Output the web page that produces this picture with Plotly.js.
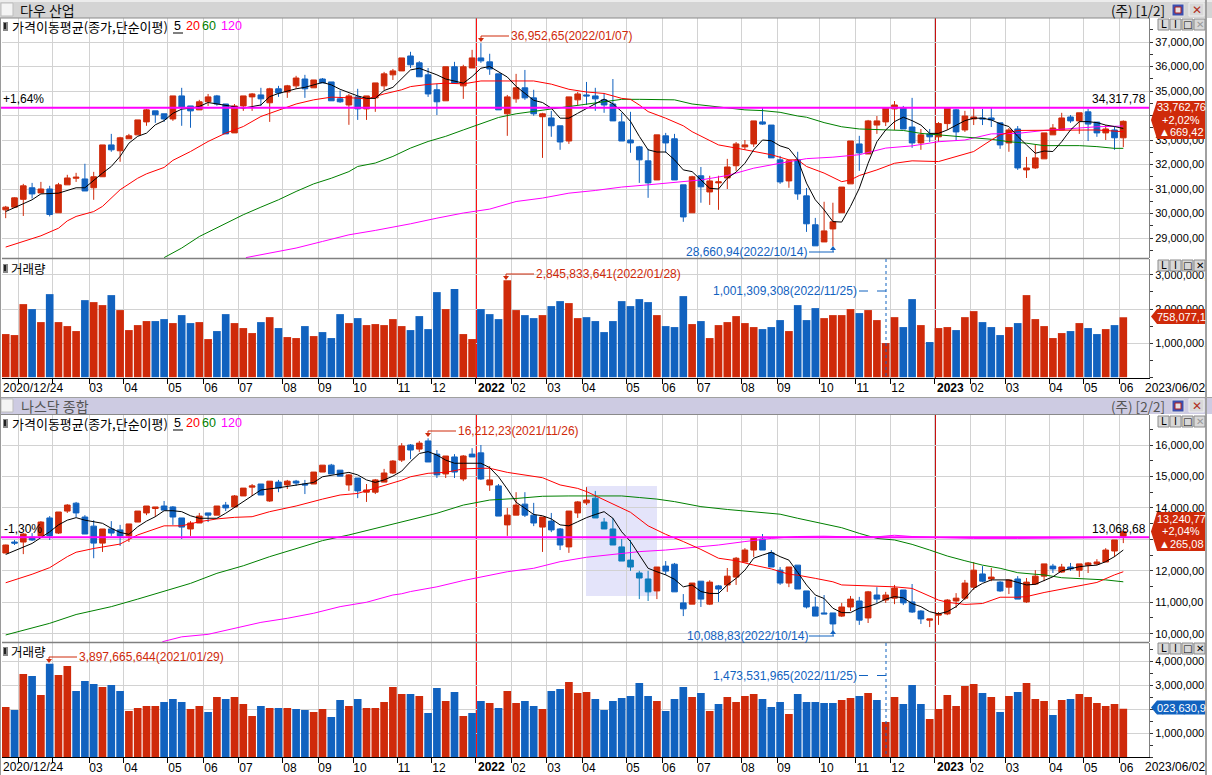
<!DOCTYPE html>
<html><head><meta charset="utf-8">
<script src="https://cdn.plot.ly/plotly-3.0.1.min.js"></script>
<style>html,body{margin:0;padding:0;background:#fff;overflow:hidden}#c{width:1212px;height:775px}</style>
</head><body><div id="c"></div>
<script>
// [open, high, low, close] weekly, Dow
const dowOHLC=[[30150,30310,29810,30260],[30260,30660,30240,30640],[30580,31210,29900,31130],[31050,31250,30610,30800],[30840,31290,30840,31000],[31000,31130,29880,29960],[30030,31250,30030,31170],[31170,31580,31170,31450],[31440,31660,31290,31480],[31410,32030,30920,30920],
[31050,31700,30560,31500],[31500,32800,31500,32800],[32800,33250,32520,32600],[32560,33130,32110,33090],[33050,33250,33050,33170],[33210,33820,33210,33820],[33740,34270,33580,34230],[34190,34190,33700,34030],[34070,34070,33740,33860],[33860,34800,33780,34800],
[34800,35130,33580,34350],[34390,34390,33500,34190],[34230,34640,34230,34560],[34560,34880,34390,34760],[34800,34840,34400,34470],[34470,34470,33250,33250],[33290,34470,33290,34390],[34390,34800,34190,34800],[34760,34920,34190,34880],[34840,35130,34390,34680],
[34520,35130,33740,35090],[35090,35210,34760,34920],[34960,35250,34720,35210],[35210,35620,35100,35530],[35490,35660,34720,35090],[35130,35450,35130,35450],[35490,35530,35330,35330],[35370,35370,34600,34600],[34680,35020,34520,34560],[34430,34880,33620,34800],
[34760,35090,33820,34270],[34270,34800,33820,34800],[34720,35330,34150,35330],[35210,35780,35050,35700],[35660,35900,35450,35820],[35820,36350,35820,36350],[36430,36600,35940,36070],[36150,36220,35580,35580],[35660,35940,34760,34880],[35050,35290,34020,34560],
[34600,35990,34600,35990],[35990,36190,35320,35320],[35210,36070,34680,35990],[35940,36680,35940,36350],[36350,36953,36150,36230],[36190,36520,35660,35900],[35700,35700,34230,34230],[34070,34840,33170,34760],[34680,35700,34520,35130],[35130,35860,34640,34720],
[34720,35050,33990,34070],[33950,34110,32270,34070],[33900,34190,33130,33580],[33580,33580,32600,32920],[32960,34760,32840,34760],[34640,34960,34430,34880],[34840,35370,34430,34800],[34800,35130,34190,34680],[34640,34920,34110,34430],[34470,35490,33780,33780],
[33740,34110,32960,32960],[33000,34150,32480,32880],[32720,32760,31250,32190],[32150,32640,30640,31250],[31370,33210,31370,33210],[33170,33290,32480,32880],[33050,33250,31370,31370],[31170,31170,29660,29860],[30030,31540,30030,31500],[31540,31900,30440,31090],
[30880,31540,30350,31330],[31250,31540,30150,31290],[31450,32230,31000,31900],[31950,32920,31740,32840],[32720,33000,32600,32800],[32840,33780,32720,33780],[33740,34310,33620,33650],[33610,33610,32270,32270],[32190,32350,31210,31290],[31330,32190,31050,32150],
[32190,32520,30560,30800],[30720,31040,29250,29580],[29540,29820,28680,28680],[28840,30480,28840,29290],[29370,30440,28661,29660],[30030,31080,30030,31080],[31210,32960,31210,32960],[32840,33170,31740,32470],[32430,33820,32430,33780],[33610,33980,33250,33780],
[33740,34310,33570,34310],[34270,34590,33410,34430],[34310,34390,33450,33450],[33530,34720,32680,32880],[32880,33450,32600,33210],[33250,33450,32920,33130],[33130,33730,32920,33670],[33670,34310,33410,34310],[34230,34270,32960,33330],[33410,34190,33330,33980],
[33860,34310,33610,33940],[33900,34270,33610,33860],[33900,34310,33530,33820],[33700,33700,32640,32800],[32880,33490,32520,33410],[33450,33570,31780,31860],[31780,32310,31450,31860],[31860,32800,31820,32270],[32230,33290,32230,33290],[33210,33650,33210,33490],
[33410,34110,33410,33900],[33940,34020,33700,33780],[33780,34110,33250,34110],[34150,34270,32960,33650],[33730,33730,33130,33290],[33290,33610,33000,33450],[33410,33530,32600,33090],[33090,33800,32710,33763]];
// [open, high, low, close] weekly, Nasdaq
const nasOHLC=[[12565,12830,12560,12820],[12915,12980,12820,12880],[12915,13200,12530,13170],[13070,13200,12950,12980],[13110,13580,13110,13550],[13680,13740,12980,13110],[13200,13870,13170,13870],[13900,14120,13840,14090],[14150,14190,13710,13840],[13710,13770,13170,13170],
[13420,13610,12400,12880],[12880,13330,12600,13330],[13330,13580,13110,13200],[13300,13460,12790,13110],[13110,13490,12915,13490],[13550,13900,13550,13900],[13840,14060,13770,14060],[13980,14030,13710,14030],[14060,14220,13930,13930],[14030,14060,13460,13710],
[13680,13680,13010,13390],[13330,13580,13110,13520],[13520,13840,13520,13740],[13840,13840,13550,13770],[13770,14060,13770,14060],[14090,14190,13900,14000],[14030,14410,14030,14380],[14380,14630,14380,14630],[14660,14760,14380,14700],[14760,14760,14410,14410],
[14220,14850,14190,14850],[14820,14890,14500,14630],[14730,14890,14600,14850],[14850,14890,14700,14790],[14760,14890,14440,14730],[14760,15140,14760,15140],[15140,15360,15140,15360],[15360,15400,15080,15080],[15200,15200,15010,15010],[14730,15080,14540,15050],
[14950,14950,14310,14540],[14500,14760,14190,14570],[14500,14920,14440,14890],[14820,15240,14820,15110],[15110,15520,15080,15490],[15520,16060,15460,15970],[16000,16030,15550,15840],[15870,16130,15780,16060],[16130,16212,15460,15460],[15710,15840,14950,15050],
[15080,15650,14950,15650],[15620,15710,14950,15140],[14920,15680,14850,15650],[15710,15900,15620,15620],[15750,16000,14890,14920],[14730,15330,14540,14890],[14700,14760,13740,13740],[13460,14000,13110,13770],[13770,14500,13770,14090],[14120,14500,13710,13770],
[13770,14160,13420,13520],[13390,13710,12600,13710],[13580,13840,13230,13300],[13330,13360,12660,12820],[12760,13900,12570,13900],[13840,14220,13680,14190],[14160,14660,14090,14250],[14310,14540,13680,13680],[13550,13680,13330,13330],[13330,13680,12820,12820],
[12760,13010,12310,12310],[12340,12980,12000,12120],[11930,12000,11100,11770],[11740,12000,11040,11330],[11360,12120,11100,12120],[12150,12310,11870,11990],[12210,12250,11330,11330],[10980,11260,10560,10790],[10940,11610,10940,11610],[11670,11670,10850,11100],
[10940,11700,10910,11640],[11520,11550,11010,11420],[11550,12090,11330,11830],[11800,12440,11550,12400],[12280,12720,12280,12660],[12660,13040,12440,13040],[13010,13170,12660,12660],[12570,12660,12120,12120],[12020,12120,11550,11610],[11610,12120,11480,12120],
[12180,12180,11420,11420],[11360,11360,10800,10850],[10850,11170,10560,10560],[10660,11230,10630,10630],[10660,10660,10088,10310],[10560,10980,10530,10850],[10850,11200,10720,11100],[11040,11170,10280,10430],[10500,11360,10340,11330],[11230,11480,10980,11100],
[11070,11330,10980,11230],[11130,11550,10940,11450],[11390,11390,10910,10980],[11010,11580,10660,10690],[10720,10750,10310,10470],[10430,10470,10210,10470],[10590,10690,10280,10630],[10630,11100,10590,11070],[11040,11290,10820,11130],[11130,11710,11070,11610],
[11480,12280,11390,12020],[11900,12150,11640,11670],[11740,12090,11670,11800],[11640,11670,11330,11360],[11480,11710,11260,11710],[11740,11830,11100,11100],[11010,11770,10980,11640],[11580,12020,11550,11830],[11830,12220,11670,12220],[12150,12220,11930,12060],
[11960,12220,11930,12120],[12120,12250,12000,12060],[12020,12220,11800,12220],[12180,12280,11930,12250],[12220,12370,12180,12280],[12280,12720,12280,12660],[12630,12980,12440,12980],[13100,13241,12880,13241]];
// volumes, millions of shares
const dowVol=[1265,1236,2143,1997,1616,2436,1616,1499,1353,2260,2202,2114,2407,1968,1382,1528,1646,1646,1704,1587,1821,1587,1616,1118,1353,1850,1587,1441,1294,1616,1761,1441,1177,1148,1499,1206,1323,1148,1850,1587,1733,1528,1558,1528,1704,1499,1382,1792,1411,2495,1997,2583,1265,1118,1997,1850,1704,2846,1968,1821,1733,1821,2085,2231,2173,1733,1761,1646,1323,1646,2231,2085,2290,2202,1821,1499,1470,2378,1558,1646,1148,1528,1616,1792,1587,1470,1411,1470,1675,1353,2114,1675,2026,1733,1821,1821,1997,1880,1968,1675,1001,1761,1470,2290,1528,1031,1441,1470,1382,1761,1938,1616,1470,1236,1470,1587,2407,1704,1499,1148,1294,1353,1587,1441,1265,1411,1528,1758];
const nasVol=[2099,1974,3475,3392,2599,3898,3433,3809,2766,3183,3058,2933,3016,2766,1932,2057,2141,2141,2307,2433,2307,2016,2141,1890,2516,2433,2516,2224,1724,2141,2057,2057,2057,2016,1974,1890,2016,1682,2391,2141,2433,2057,2057,2307,2933,2641,2641,2558,1849,2891,2349,2724,1724,1849,2349,2266,2057,2766,2266,2349,2141,2016,2766,2850,3141,2683,2724,2433,1974,2349,2474,2558,3100,2558,2349,1932,2433,2933,2516,2683,1932,2224,2516,2307,2558,2641,2433,2099,2307,1807,2641,2307,2307,2266,2266,2391,2474,2558,2683,2391,1474,2516,2224,3016,2224,1599,2016,2599,2141,2975,3058,2683,2516,1890,2558,2724,3100,2433,2349,1765,2391,2433,2641,2516,2266,2141,2224,2024];
// moving averages: [week index, value]
const dowMA5=[[0,30080],[3,30560],[4,30800],[6,30830],[8,31050],[9,31050],[11,31650],[12,31920],[13,32330],[14,32870],[15,33150],[16,33280],[17,33620],[18,33790],[19,34090],[20,34260],[21,34300],[22,34370],[23,34530],[24,34470],[26,34370],[27,34300],[29,34430],[30,34770],[31,34900],[33,35090],[34,35150],[36,35350],[37,35250],[38,35070],[40,34800],[41,34700],[42,34700],[43,35020],[44,35150],[45,35520],[46,35860],[47,35930],[48,35800],[49,35660],[50,35490],[51,35400],[52,35320],[53,35590],[54,35930],[55,36000],[56,35800],[57,35570],[58,35190],[59,34920],[60,34620],[61,34530],[62,34300],[63,33890],[64,33890],[65,34090],[66,34300],[67,34480],[68,34670],[69,34480],[70,34160],[71,33760],[72,33150],[73,32600],[74,32510],[75,32510],[76,32190],[77,31780],[78,31710],[79,31370],[80,31030],[81,31000],[82,31440],[83,31690],[84,32050],[85,32600],[86,33000],[87,32970],[88,32760],[89,32650],[90,32200],[91,31240],[92,30560],[93,30150],[94,29670],[95,29650],[96,30290],[97,31030],[98,32050],[99,32930],[100,33410],[101,33750],[102,33930],[103,33790],[104,33610],[105,33270],[106,33270],[107,33410],[108,33610],[109,33790],[110,33890],[111,33890],[112,33820],[113,33660],[114,33550],[115,33150],[116,32800],[117,32460],[118,32550],[119,32530],[120,32930],[121,33410],[122,33750],[123,33750],[124,33710],[125,33610],[126,33550],[127,33470]];
const dowMA20=[[0,28630],[4,29090],[6,29400],[7,29700],[8,29880],[10,30080],[11,30290],[13,30970],[15,31440],[16,31620],[18,31880],[19,32170],[21,32530],[23,32940],[25,33280],[27,33550],[29,33960],[31,34230],[33,34470],[35,34640],[37,34750],[40,34710],[41,34670],[43,34880],[45,35050],[46,35180],[48,35270],[50,35320],[52,35290],[54,35410],[56,35410],[58,35410],[60,35410],[62,35280],[64,35070],[66,34960],[68,34900],[70,34700],[71,34660],[72,34430],[73,34160],[75,33890],[77,33580],[78,33340],[79,33150],[81,32800],[83,32670],[85,32530],[87,32400],[89,32190],[90,32190],[91,31920],[93,31650],[95,31300],[96,31370],[97,31550],[99,31780],[101,32050],[103,32150],[106,32120],[108,32310],[110,32530],[112,33000],[113,33210],[115,33390],[118,33390],[121,33390],[124,33410],[127,33340]];
const dowMA60=[[18,28200],[20,28590],[22,29060],[25,29600],[27,29950],[29,30260],[31,30560],[33,30900],[35,31210],[37,31440],[39,31710],[40,31920],[42,32060],[44,32330],[45,32490],[46,32670],[48,32940],[50,33150],[52,33410],[54,33680],[56,33920],[58,34070],[60,34170],[62,34260],[64,34340],[66,34470],[68,34570],[70,34660],[72,34660],[74,34640],[76,34640],[78,34470],[80,34390],[82,34300],[84,34230],[86,34200],[88,34130],[90,33980],[91,33930],[93,33710],[95,33540],[97,33450],[100,33410],[102,33390],[104,33270],[106,33210],[108,33160],[110,33110],[112,33030],[114,32930],[116,32870],[118,32770],[120,32770],[122,32770],[124,32730],[126,32660],[127,32660]];
const dowMA120=[[27.3,28200],[30,28380],[33,28590],[36,28860],[39,29130],[42,29310],[45,29500],[46,29580],[49,29810],[52,30020],[55,30180],[58,30490],[61,30630],[64,30830],[67,30940],[70,31080],[73,31170],[76,31260],[79,31370],[82,31550],[85,31850],[88,32050],[90,32190],[91,32240],[94,32300],[97,32400],[100,32670],[103,32760],[106,32930],[109,33000],[112,33250],[115,33270],[118,33390],[121,33470],[124,33540],[127,33570]];
const nasMA5=[[0,12520],[3,12870],[5,13240],[6,13460],[7,13610],[8,13690],[9,13610],[11,13510],[12,13350],[13,13220],[14,13160],[15,13400],[16,13580],[17,13720],[18,13910],[19,13910],[20,13880],[21,13750],[22,13670],[24,13670],[25,13830],[26,14010],[27,14200],[28,14380],[29,14570],[31,14640],[33,14730],[35,14810],[36,14990],[38,15070],[39,15130],[40,15050],[41,14890],[42,14810],[43,14890],[44,15010],[45,15170],[46,15470],[47,15730],[48,15790],[49,15680],[50,15520],[51,15420],[52,15420],[53,15420],[54,15420],[55,15280],[56,14990],[57,14600],[58,14180],[59,13990],[60,13790],[61,13750],[62,13650],[63,13460],[64,13430],[65,13560],[66,13690],[67,13790],[68,13880],[69,13670],[70,13240],[71,12930],[72,12500],[73,12080],[74,11970],[75,11870],[76,11730],[77,11490],[78,11550],[79,11340],[80,11280],[81,11280],[82,11550],[83,11760],[84,12020],[85,12400],[86,12500],[87,12590],[88,12450],[89,12340],[90,11950],[91,11550],[92,11230],[93,11120],[94,10810],[95,10670],[96,10670],[97,10810],[98,10860],[99,10960],[100,11100],[101,11180],[102,11140],[103,10960],[104,10860],[105,10700],[106,10630],[107,10700],[108,10860],[109,11120],[110,11440],[111,11600],[112,11710],[113,11710],[114,11710],[115,11630],[116,11550],[117,11570],[118,11690],[119,11810],[120,12000],[121,12060],[122,12130],[123,12160],[124,12180],[125,12290],[126,12450],[127,12660]];
const nasMA20=[[0,11620],[3,11890],[5,12100],[7,12450],[8,12590],[10,12710],[13,12850],[15,13140],[18,13430],[20,13430],[22,13560],[24,13650],[26,13700],[28,13720],[30,13880],[33,14060],[36,14280],[38,14410],[40,14460],[43,14710],[45,14880],[46,14990],[48,15100],[50,15130],[52,15240],[54,15260],[55,15260],[57,15130],[59,15050],[61,14960],[63,14730],[65,14620],[66,14520],[68,14250],[70,13990],[71,13860],[73,13430],[75,13160],[77,12930],[79,12680],[81,12400],[83,12320],[85,12180],[87,12060],[89,11890],[90,11860],[92,11760],[94,11650],[95,11550],[98,11530],[101,11490],[103,11440],[105,11200],[106,11070],[107,11000],[109,10930],[111,10960],[113,11160],[115,11160],[116,11180],[118,11310],[120,11410],[122,11530],[124,11630],[126,11870],[127,11970]];
const nasMA60=[[0,9960],[5,10330],[8,10610],[12,10860],[15,11100],[18,11340],[21,11600],[24,11920],[27,12160],[30,12450],[33,12710],[36,12960],[39,13140],[42,13350],[45,13540],[46,13610],[49,13830],[52,14090],[55,14250],[58,14300],[61,14370],[64,14380],[67,14380],[70,14380],[72,14330],[74,14280],[76,14200],[79,14040],[82,13950],[85,13880],[88,13800],[90,13670],[91,13610],[93,13510],[95,13370],[97,13190],[99,13030],[101,12980],[103,12840],[105,12660],[107,12470],[109,12320],[111,12180],[113,12080],[115,11940],[117,11890],[118,11870],[120,11780],[122,11760],[124,11740],[125,11710],[127,11650]];
const nasMA120=[[17.8,9745],[20,9900],[23,9980],[26,10170],[29,10360],[32,10490],[35,10650],[38,10860],[41,11000],[44,11230],[45,11270],[46,11340],[49,11490],[52,11690],[54,11810],[57,11970],[60,12080],[63,12290],[66,12430],[69,12520],[72,12610],[75,12660],[78,12730],[81,12820],[84,12930],[87,13030],[90,13090],[93,13100],[96,13080],[99,13080],[101,13130],[103,13090],[106,13060],[110,13030],[115,13030],[120,13030],[123,13050],[127,13070]];
const monthTickIdx=[1.4,5.37,9.47,13.44,18.44,22.53,26.51,31.51,35.49,39.47,44.47,48.44,53.44,57.53,61.51,65.49,70.49,74.58,78.56,83.56,87.65,92.53,96.6,100.6,105.6,109.6,113.6,118.56,122.5,126.6];
const monthTickText=['','','03','04','05','06','07','08','09','10','11','12','','02','03','04','05','06','07','08','09','10','11','12','','02','03','04','05','06'];
const yearLineIdx=[1.455,53.5,105.66];
const dowPriceTicks=[29000,30000,31000,32000,33000,34000,35000,36000,37000];
const dowPriceText=['29,000,00','30,000,00','31,000,00','32,000,00','33,000,00','34,000,00','35,000,00','36,000,00','37,000,00'];
const nasPriceTicks=[10000,11000,12000,13000,14000,15000,16000];
const nasPriceText=['10,000,00','11,000,00','12,000,00','13,000,00','14,000,00','15,000,00','16,000,00'];
const dowVolTicks=[1000,2000,3000], dowVolText=['1,000,000,','2,000,000,','3,000,000,'];
const nasVolTicks=[1000,2000,3000,4000], nasVolText=['1,000,000,','2,000,000,','3,000,000,','4,000,000,'];
const tintedWeeks=[67,68,69,70,71,72,73];
const dowRefLine=34317.78, nasRefLine=13068.68;

const RED='#CF2A0A',BLUE='#1162BF',TEAL='#0D7CBC',GRID='#D2D2D2',LF='"Liberation Sans",Arial,sans-serif',KF='"Noto Sans CJK KR","Liberation Sans",sans-serif';
const W=1212,H=775,px=x=>x/W,py=y=>1-y/H;
const idx=a=>a.map((_,i)=>i);
function candle(rows,xa,ya,weeks,upC,dnC){
  const keep=weeks?weeks:idx(rows);
  return {type:'candlestick',x:keep,open:keep.map(i=>rows[i][0]),high:keep.map(i=>rows[i][1]),low:keep.map(i=>rows[i][2]),close:keep.map(i=>rows[i][3]),
    xaxis:xa,yaxis:ya,whiskerwidth:0,hoverinfo:'skip',showlegend:false,
    increasing:{line:{color:upC,width:1},fillcolor:upC},decreasing:{line:{color:dnC,width:1},fillcolor:dnC}};
}
function ma(p,col,xa,ya){return {type:'scatter',mode:'lines',x:p.map(d=>d[0]),y:p.map(d=>d[1]),xaxis:xa,yaxis:ya,line:{color:col,width:1},hoverinfo:'skip',showlegend:false};}
function vol(v,rows,xa,ya){return {type:'bar',x:idx(v),y:v,xaxis:xa,yaxis:ya,marker:{color:rows.map(r=>r[3]>=r[0]?RED:BLUE),line:{width:0}},hoverinfo:'skip',showlegend:false};}
const otherWeeks=idx(nasOHLC).filter(i=>!tintedWeeks.includes(i));
const data=[
 candle(dowOHLC,'x','y',null,RED,BLUE),
 ma(dowMA120,'#FF00FF','x','y'),ma(dowMA60,'#008000','x','y'),ma(dowMA20,'#FF0000','x','y'),ma(dowMA5,'#000000','x','y'),
 vol(dowVol,dowOHLC,'x','y2'),
 candle(nasOHLC,'x2','y3',otherWeeks,RED,BLUE),
 candle(nasOHLC,'x2','y3',tintedWeeks,RED,TEAL),
 ma(nasMA120,'#FF00FF','x2','y3'),ma(nasMA60,'#008000','x2','y3'),ma(nasMA20,'#FF0000','x2','y3'),ma(nasMA5,'#000000','x2','y3'),
 vol(nasVol,nasOHLC,'x2','y4')
];
const xBase={range:[-0.42,129.92],domain:[px(2),px(1149)],tickmode:'array',tickvals:monthTickIdx,ticktext:monthTickText,showgrid:true,gridcolor:GRID,gridwidth:1,
  showline:true,linecolor:'#000',linewidth:1,ticks:'outside',ticklen:5,tickcolor:'#000',tickfont:{family:LF,size:12,color:'#000'},ticklabelshift:7,ticklabelstandoff:-6,zeroline:false,rangeslider:{visible:false},fixedrange:true};
function yAx(t,b,range,tv,tt,minor){return {domain:[py(b),py(t)],range,side:'right',anchor:'x',tickmode:'array',tickvals:tv,ticktext:tt,showgrid:true,gridcolor:GRID,gridwidth:1,
  showline:true,linecolor:'#808080',linewidth:1,ticks:'outside',ticklen:3,tickcolor:'#333',tickfont:{family:LF,size:11,color:'#000'},zeroline:false,fixedrange:true,
  minor:{tickmode:'linear',tick0:0,dtick:minor,ticks:'outside',ticklen:3,tickcolor:'#333',showgrid:false}};}

const shapes=[],ann=[];
function rect(x0,y0,x1,y1,fill,line,layer){shapes.push({type:'rect',xref:'paper',yref:'paper',x0:px(x0),x1:px(x1),y0:py(y1),y1:py(y0),fillcolor:fill,line:{color:line||fill,width:line?1:0},layer:layer||'above'});}
function seg(x0,y0,x1,y1,col,w,dash){shapes.push({type:'line',xref:'paper',yref:'paper',x0:px(x0),x1:px(x1),y0:py(y0),y1:py(y1),line:{color:col,width:w||1,dash:dash||'solid'},layer:'above'});}
function poly(pts,fill){shapes.push({type:'path',xref:'paper',yref:'paper',path:'M'+pts.map(p=>px(p[0])+','+py(p[1])).join(' L')+' Z',fillcolor:fill,line:{width:0},layer:'above'});}
function txt(x,y,t,o={}){ann.push({xref:'paper',yref:'paper',x:px(x),y:py(y),text:t,showarrow:false,xanchor:o.a||'left',yanchor:'middle',align:o.a||'left',
  font:{family:o.f||LF,size:o.s||12,color:o.c||'#000'},borderpad:0,bgcolor:o.bg});}

// title bars
rect(0,0,1212,2,'#ECECEC');
rect(0,2,1212,18,'#D4D4D4');seg(0,18,1149,18,'#8A8A8A',1);
rect(0,398,1212,414,'#CDCBE2');seg(0,397.5,1212,397.5,'#A0A0A0',1);seg(0,414.5,1149,414.5,'#8A8A8A',1);
[[10,'다우 산업','#111',19,'(주) [1/2]'],[406,'나스닥 종합','#555',20,'(주) [2/2]']].forEach(([y,t,c,tx,r],k)=>{
  rect(1,y-7,13,y+6,'#F4F4F4','#BDBDBD');
  txt(tx,y,t,{f:KF,s:14,c});
  txt(1166,y,r,{f:KF,s:13.5,c,a:'right'});
  rect(1172,y-6,1184,y+6,'#3B4FB0','#E0E0E0');rect(1175,y-3,1181,y+3,'#E8E0E0','#B02020');
  rect(1189,y-7,1204,y+6,'#D8D8D8','#F0F0F0');txt(1196.5,y,'✕',{s:12,c:'#B03020',a:'center',f:'"DejaVu Sans"'});
});
// right window edge
seg(1206,0,1206,775,'#A0A0A0',2);seg(0.5,18,0.5,775,'#9A9A9A',1);
// panel separators
seg(2,258.5,1149,258.5,'#808080',1.5);seg(2,642.5,1149,642.5,'#808080',1.5);
// small panel buttons
[19,260,416,643].forEach((y,k)=>{
  ['L','I','□','✕'].forEach((b,i)=>{
    const x=1158+i*12;
    rect(x,y,x+11,y+11,'#D8D8D8','#8C8C8C');
    txt(x+5.5,y+5.5,b,{s:10,a:'center',c:(i==3&&(k==0||k==2))?'#999':'#000',f:'"DejaVu Sans"'});
  });
});
// legends
[26,423].forEach(y=>{
  rect(3,y-4,8,y+5,'#888');rect(4,y-3,6,y+3,'#222');
  txt(11,y,'가격이동평균(종가,단순이평)',{f:KF,s:13});
  txt(173,y,'5',{s:12.5});seg(173,y+7,183,y+7,'#000',1);
  txt(185,y,'20',{s:12.5,c:'#FF0000'});
  txt(201,y,'60',{s:12.5,c:'#008000'});
  txt(220,y,'120',{s:12.5,c:'#FF00FF'});
});
[268,651].forEach(y=>{rect(3,y-4,8,y+5,'#888');rect(4,y-3,6,y+3,'#222');txt(10,y,'거래량',{f:KF,s:12.5});});
// reference lines
[['y',dowRefLine],['y3',nasRefLine]].forEach(([ya,v])=>shapes.push({type:'line',xref:'paper',yref:ya,x0:px(1),x1:px(1149),y0:v,y1:v,line:{color:'#FF00FF',width:2},layer:'above'}));
txt(2,99,'+1,64%');txt(1147,99,'34,317,78',{a:'right'});
txt(3,529,'-1,30%');txt(1147,529,'13,068,68',{a:'right'});
// year marks
[['x','y'],['x','y2'],['x2','y3'],['x2','y4']].forEach(([xa,ya])=>yearLineIdx.forEach((v,i)=>shapes.push({type:'line',xref:xa,yref:ya+' domain',x0:v,x1:v,y0:0,y1:1,line:{color:i==2?'#C81010':'#FF1010',width:1},layer:'below'})));
// drawn box on the Nasdaq panel
rect(586,486,657,596,'#E4E4FA',null,'below');
// extreme labels and leaders
function leader(ty,label,col,x0,x1,ax,up,lx){
  seg(x0,ty,x1,ty,col,1);
  seg(ax,ty,ax,up?ty-3:ty+3,col,1);
  poly(up?[[ax-3,ty-2],[ax+3,ty-2],[ax,ty-6]]:[[ax-3,ty+2],[ax+3,ty+2],[ax,ty+6]],col);
  txt(lx,ty,label,{c:col});
}
leader(36,'36,952,65(2022/01/07)',RED,481,509,481,false,510);
leader(252,'28,660,94(2022/10/14)',BLUE,809,834,833,true,685);
leader(431,'16,212,23(2021/11/26)',RED,428,456,428,false,457);
leader(636,'10,088,83(2022/10/14)',BLUE,809,834,833,true,686);
leader(274,'2,845,833,641(2022/01/28)',RED,506,534,506,false,535);
leader(657,'3,897,665,644(2021/01/29)',RED,49,77,49,false,78);
txt(858,291,'1,001,309,308(2022/11/25)',{c:BLUE,a:'right'});seg(859,291,886,291,BLUE,1,'dash');
txt(858,675.5,'1,473,531,965(2022/11/25)',{c:BLUE,a:'right'});seg(859,675.5,886,675.5,BLUE,1,'dash');
seg(886,259,886,378,BLUE,1,'dot');seg(886,643,886,757,BLUE,1,'dot');
// current value flags
function flag(t,b,col){const m=(t+b)/2;poly([[1151,m],[1157,t],[1205,t],[1205,b],[1157,b]],col);}
const FS=11;
flag(101,139,RED);txt(1181,107.5,'33,762,76',{c:'#fff',a:'center',s:FS});txt(1181,120,'+2,02%',{c:'#fff',a:'center',s:FS});txt(1181,132.5,'▲669,42',{c:'#fff',a:'center',s:FS});
flag(512,551,RED);txt(1181,518.5,'13,240,77',{c:'#fff',a:'center',s:FS});txt(1181,531,'+2,04%',{c:'#fff',a:'center',s:FS});txt(1181,543.5,'▲265,08',{c:'#fff',a:'center',s:FS});
flag(309,324,RED);txt(1181,316.5,'758,077,1',{c:'#fff',a:'center',s:FS});
flag(700.5,714.5,BLUE);txt(1181,708,'023,630,9',{c:'#fff',a:'center',s:FS});
// date labels
[388,767].forEach(y=>{
  txt(2,y,'2020/12/24');txt(477,y,'<b>2022</b>');txt(936,y,'<b>2023</b>');txt(1144,y,'2023/06/02');
});
const layout={width:W,height:H,margin:{l:0,r:0,t:0,b:0,pad:0},paper_bgcolor:'#fff',plot_bgcolor:'#fff',showlegend:false,boxgap:0.08,bargap:0.13,hovermode:false,
 xaxis:Object.assign({},xBase,{anchor:'y2'}),
 xaxis2:Object.assign({},xBase,{anchor:'y4'}),
 yaxis:yAx(18,258,[28184,37980],dowPriceTicks,dowPriceText,500),
 yaxis2:yAx(259,378,[-23,3466],dowVolTicks,dowVolText,500),
 yaxis3:Object.assign(yAx(415,642,[9736,16954],nasPriceTicks,nasPriceText,500),{anchor:'x2'}),
 yaxis4:Object.assign(yAx(643,757.3,[0,4763],nasVolTicks,nasVolText,500),{anchor:'x2'}),
 shapes,annotations:ann};
Plotly.newPlot('c',data,layout,{displayModeBar:false,staticPlot:true});
</script></body></html>
